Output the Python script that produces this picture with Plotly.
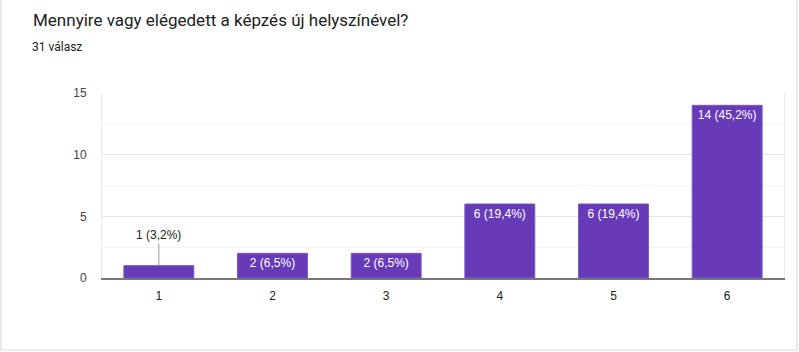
import plotly.graph_objects as go

title = "Mennyire vagy elégedett a képzés új helyszínével?"
subtitle = "31 válasz"
categories = ["1", "2", "3", "4", "5", "6"]
counts = [1, 2, 2, 6, 6, 14]
labels = ["1 (3,2%)", "2 (6,5%)", "2 (6,5%)", "6 (19,4%)", "6 (19,4%)", "14 (45,2%)"]
y_ticks = [0, 5, 10, 15]

W, H = 799, 352
ml, mr, mt, mb = 102, 15, 93, 74
pw, ph = W - ml - mr, H - mt - mb

def px_x(p):
    return (p - ml) / pw

def px_y(p):
    return (H - mb - p) / ph

FONT = "Liberation Sans, Arial, sans-serif"
inside_text = [lab if c >= 2 else "" for c, lab in zip(counts, labels)]

fig = go.Figure()
fig.add_trace(go.Bar(
    x=categories, y=counts,
    marker=dict(color="#673ab7", line=dict(color="#7b55c4", width=1)),
    text=inside_text, textposition="inside", insidetextanchor="end",
    textfont=dict(color="white", size=12, family=FONT),
    textangle=0, cliponaxis=False, hoverinfo="skip",
))

annotations = []
for i, (c, lab) in enumerate(zip(counts, labels)):
    if c < 2:
        annotations.append(dict(
            x=i, y=c, xref="x", yref="y", text=lab, showarrow=True,
            arrowhead=0, arrowwidth=1, arrowcolor="#999999",
            ax=0, ay=-22, standoff=0,
            font=dict(size=12, color="#222222", family=FONT),
            yanchor="bottom",
        ))

annotations.append(dict(
    x=px_x(31), y=px_y(20), xref="paper", yref="paper", text=title,
    showarrow=False, xanchor="left", yanchor="middle",
    font=dict(size=17, color="#202124", family="Roboto, Arial, sans-serif"),
))
annotations.append(dict(
    x=px_x(30), y=px_y(47), xref="paper", yref="paper", text=subtitle,
    showarrow=False, xanchor="left", yanchor="middle",
    font=dict(size=12, color="#202124", family="Roboto, Arial, sans-serif"),
))

shapes = [
    dict(type="rect", xref="paper", yref="paper",
         x0=px_x(1), x1=px_x(797), y0=px_y(350), y1=px_y(-10),
         line=dict(color="#dadce0", width=1.2), fillcolor="rgba(0,0,0,0)", layer="below"),
]

fig.update_layout(
    width=W, height=H,
    margin=dict(l=ml, r=mr, t=mt, b=mb),
    paper_bgcolor="white", plot_bgcolor="white",
    bargap=0.385, showlegend=False,
    annotations=annotations, shapes=shapes,
    font=dict(family=FONT),
)
fig.update_xaxes(
    type="category", showgrid=False, showline=True, linecolor="#777777", linewidth=2,
    ticks="", tickfont=dict(size=12, color="#222222", family=FONT), ticklabelstandoff=6,
)
fig.update_yaxes(
    range=[0, 15], tickvals=y_ticks, showgrid=True, gridcolor="#e6e6e6", gridwidth=1,
    minor=dict(dtick=2.5, showgrid=True, gridcolor="#f3f3f3", gridwidth=1),
    showline=True, mirror=True, linecolor="#ebebeb", linewidth=1,
    zeroline=False, ticks="", tickfont=dict(size=12, color="#444444", family=FONT),
    ticklabelstandoff=12,
)

fig.write_html("out.html")
